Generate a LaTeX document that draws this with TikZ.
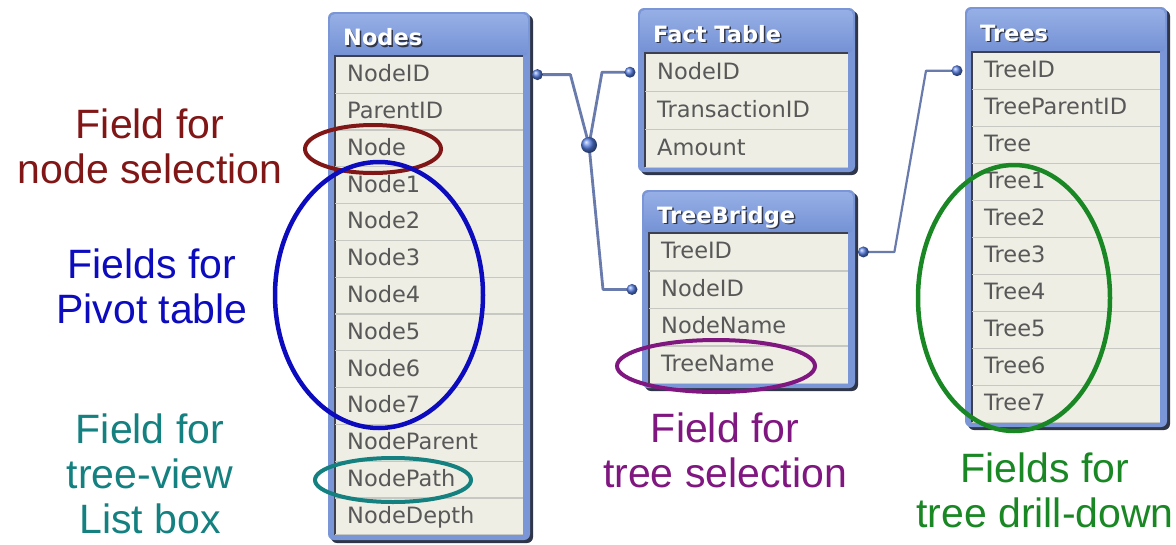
\documentclass[tikz,border=0pt]{standalone}
\usepackage{fontspec}
\setmainfont{Liberation Sans}
\newfontfamily\tabfont{DejaVu Sans}
\usetikzlibrary{calc}
\definecolor{framec}{RGB}{122,150,214}
\definecolor{titletop}{RGB}{150,175,230}
\definecolor{titlebot}{RGB}{116,145,212}
\definecolor{tshadow}{RGB}{48,54,74}
\definecolor{rowbgc}{RGB}{238,238,228}
\definecolor{sepc}{RGB}{200,200,195}
\definecolor{rowtxt}{RGB}{88,88,88}
\definecolor{innerdark}{RGB}{60,64,80}
\definecolor{connc}{RGB}{105,122,172}
\definecolor{dotc}{RGB}{85,125,225}
\definecolor{redc}{RGB}{128,22,22}
\definecolor{bluec}{RGB}{12,12,190}
\definecolor{tealc}{RGB}{20,128,128}
\definecolor{purplec}{RGB}{128,22,128}
\definecolor{greenc}{RGB}{25,135,35}
\tikzset{
  rowcell/.style={anchor=north west, inner xsep=12pt, inner ysep=0pt, align=left,
    text=rowtxt, font=\tabfont\fontsize{22.5}{26}\selectfont, text height=17pt, text depth=3pt},
  titletext/.style={anchor=west, inner sep=0pt, text=white,
    font=\tabfont\bfseries\fontsize{22.5}{26}\selectfont, text height=17pt, text depth=4pt},
  titleshade/.style={titletext, text=tshadow},
  sepline/.style={draw=sepc, line width=1.2pt},
  conn/.style={draw=connc, line width=2.8pt, line join=round},
  dotball/.style={ball color=dotc},
  label/.style={align=center, font=\fontsize{41}{45}\selectfont, inner sep=0pt},
  ring/.style={line width=4pt}
}
% #1 name, #2 x0, #3 y0, #4 x1, #5 y1, #6 row top, #7 row height, #8 title, #9 rows
\newcommand{\dbtable}[9]{%
  \fill[tshadow, rounded corners=6pt] ({#2+3},{#3+3}) rectangle ({#4+3},{#5+3});
  \fill[framec, rounded corners=6pt] (#2,#3) rectangle (#4,#5);
  \shade[top color=titletop, bottom color=titlebot, rounded corners=5pt]
    ({#2+2},{#3+2}) rectangle ({#4-2},{#6});
  \fill[rowbgc] ({#2+7},{#6}) rectangle ({#4-7},{#5-5});
  \draw[innerdark, line width=1.6pt] ({#2+7},{#5-5}) -- ({#2+7},{#6}) -- ({#4-7},{#6});
  \node[titleshade] (#1-tsh) at ({#2+16.5},{(#3+#6)/2+6.5}) {#8};
  \node[titletext] (#1-title) at ({#2+15},{(#3+#6)/2+5}) {#8};
  \pgfmathsetmacro\tabtw{#4-#2-14-24}
  \foreach \r [count=\i] in {#9} {
    \node[rowcell, text width=\tabtw pt, minimum height={#7}] (#1-\i)
      at ({#2+7},{#6+(\i-1)*#7}) {\r};
    \draw[sepline] (#1-\i.south west) -- (#1-\i.south east);
  }
}
\begin{document}
\begin{tikzpicture}[x=1pt,y=-1pt]
\useasboundingbox (0,0) rectangle (1176,544);
\fill[white] (0,0) rectangle (1176,544);

\dbtable{nodes}{328}{12}{530}{540}{56}{36.8}{Nodes}{NodeID,ParentID,Node,Node1,Node2,Node3,Node4,Node5,Node6,Node7,NodeParent,NodePath,NodeDepth}
\dbtable{fact}{638}{8}{855}{172}{53}{38}{Fact Table}{NodeID,TransactionID,Amount}
\dbtable{bridge}{642}{190}{855}{388}{233}{37.5}{TreeBridge}{TreeID,NodeID,NodeName,TreeName}
\dbtable{trees}{965}{7}{1167}{427}{52}{37}{Trees}{TreeID,TreeParentID,Tree,Tree1,Tree2,Tree3,Tree4,Tree5,Tree6,Tree7}

% connector end points
\coordinate (pN) at ([xshift=14pt]nodes-1.east);
\coordinate (pF) at ([xshift=-15pt]fact-1.west);
\coordinate (pB2) at ([xshift=-17pt]bridge-2.west);
\coordinate (pB1) at ([xshift=15pt]bridge-1.east);
\coordinate (pT) at ([xshift=-15pt]trees-1.west);
\coordinate (jn) at (589,145);

\draw[conn] (pN) -- ++(33,0) -- (jn);
\draw[conn] (jn) -- ($(pF)+(-28,0)$) -- (pF);
\draw[conn] (jn) -- ($(pB2)+(-29,0)$) -- (pB2);
\draw[conn, line width=2.2pt] (pB1) -- ++(31,0) -- ($(pT)+(-31,0)$) -- (pT);

\foreach \p in {pN,pF,pB2,pB1,pT} \shade[dotball] (\p) circle (5.5);
\shade[dotball] (jn) circle (8);

% highlight rings
\draw[redc, ring] (373,149) ellipse [x radius=68, y radius=24];
\draw[bluec, line width=4.5pt] (379,295) ellipse [x radius=104, y radius=133];
\draw[tealc, ring] (393,480) ellipse [x radius=78, y radius=22];
\draw[purplec, ring] (716,366) ellipse [x radius=99, y radius=26];
\draw[greenc, line width=4.5pt] (1014,298) ellipse [x radius=96, y radius=133];

% annotations
\node[label, text=redc] (lab-nodesel) at (150,146) {Field for\\node selection};
\node[label, text=bluec] (lab-pivot) at (152,286) {Fields for\\Pivot table};
\node[label, text=tealc] (lab-treeview) at (150,474) {Field for\\tree-view\\List box};
\node[label, text=purplec] (lab-treesel) at (725,450) {Field for\\tree selection};
\node[label, text=greenc] (lab-drill) at (1045,490) {Fields for\\tree drill-down};
\end{tikzpicture}
\end{document}
